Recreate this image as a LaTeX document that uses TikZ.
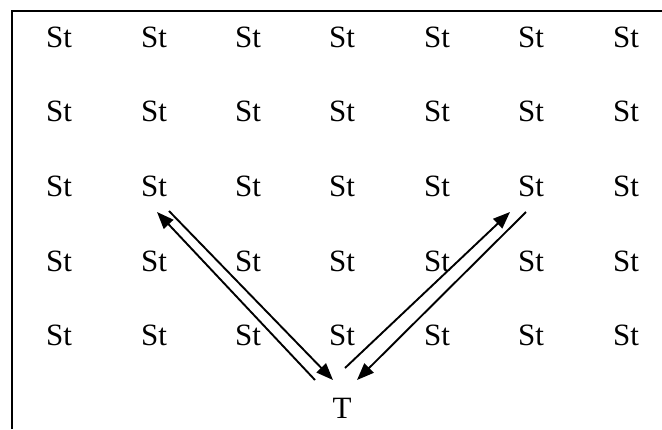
\documentclass[tikz,border=0pt]{standalone}
\usepackage{fontspec}
\setmainfont{Liberation Serif}
\usetikzlibrary{arrows.meta,calc}
\begin{document}
\begin{tikzpicture}[x=1pt,y=-1pt, every node/.style={font=\fontsize{31}{36}\selectfont,inner sep=0pt,anchor=base},
  link/.style={line width=1.9pt,-{Triangle[length=17pt,width=13pt]}}]
\useasboundingbox (0,0) rectangle (662,429);
\draw[line width=2pt] (12,429) -- (12,11) -- (662,11);
\foreach \r/\y in {1/47,2/121,3/196,4/271,5/345}
  \foreach \c/\x in {1/59,2/154,3/248,4/342,5/437,6/531,7/626}
    \node (st-\r-\c) at (\x,\y) {St};
\node (t) at (342,418) {T};
\draw[link] ($(t.base)+(-27,-38)$) -- ($(st-3-2.base)+(3,16)$);
\draw[link] ($(st-3-2.base)+(15,15)$) -- ($(t.base)+(-9,-38)$);
\draw[link] ($(t.base)+(3,-50)$) -- ($(st-3-6.base)+(-21,16)$);
\draw[link] ($(st-3-6.base)+(-5,16)$) -- ($(t.base)+(15,-38)$);
\end{tikzpicture}
\end{document}
